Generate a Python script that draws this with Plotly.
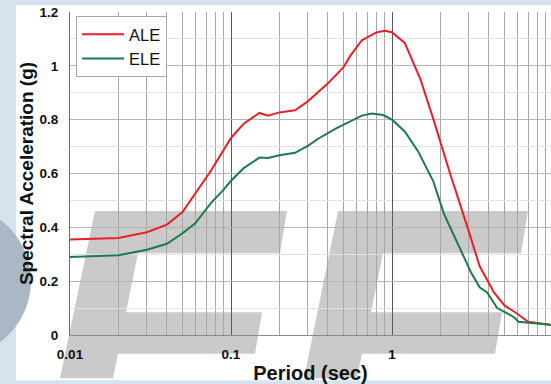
import plotly.graph_objects as go

# Design response spectra (5% damping)
period_ale = [0.01, 0.02, 0.03, 0.04, 0.05, 0.06, 0.075, 0.1, 0.12, 0.15, 0.17, 0.2,
              0.25, 0.3, 0.35, 0.4, 0.5, 0.55, 0.65, 0.8, 0.9, 1.0, 1.2, 1.5, 1.8,
              2.3, 3.0, 3.5, 4.3, 5.0, 6.0, 7.0, 10.0]
sa_ale = [0.355, 0.360, 0.382, 0.410, 0.457, 0.525, 0.610, 0.732, 0.785, 0.825, 0.815, 0.827,
          0.835, 0.868, 0.905, 0.935, 0.995, 1.037, 1.095, 1.124, 1.130, 1.125, 1.085, 0.951, 0.805,
          0.598, 0.385, 0.256, 0.158, 0.110, 0.079, 0.049, 0.036]

period_ele = [0.01, 0.02, 0.03, 0.04, 0.05, 0.06, 0.075, 0.09, 0.1, 0.12, 0.15, 0.17, 0.2,
              0.25, 0.3, 0.35, 0.45, 0.55, 0.65, 0.75, 0.88, 1.0, 1.2, 1.45, 1.8, 2.1,
              2.6, 3.1, 3.5, 3.9, 4.5, 5.0, 5.7, 6.1, 10.0]
sa_ele = [0.290, 0.296, 0.317, 0.339, 0.378, 0.415, 0.490, 0.540, 0.573, 0.620, 0.659, 0.658, 0.668,
          0.677, 0.703, 0.730, 0.768, 0.795, 0.815, 0.823, 0.817, 0.800, 0.756, 0.683, 0.573, 0.451,
          0.329, 0.232, 0.177, 0.158, 0.100, 0.085, 0.067, 0.049, 0.037]

x_tick_vals = [0.01, 0.1, 1]
x_tick_text = ["0.01", "0.1", "1"]
x_minor_vals = [m * d for d in (0.01, 0.1, 1) for m in range(2, 10)]
y_tick_vals = [0, 0.2, 0.4, 0.6, 0.8, 1.0, 1.2]
y_tick_text = ["0", "0.2", "0.4", "0.6", "0.8", "1", "1.2"]

FONT = "Liberation Sans, Arial, sans-serif"
W, H = 551, 384
ML, MR, MT, MB = 70, 0, 12, 44
PW, PH = W - ML - MR, H - MT - MB


def px(x):
    return (x - ML) / PW


def py(y):
    return (H - MB - y) / PH


def poly(points):
    return "M " + " L ".join(f"{px(a):.5f},{py(b):.5f}" for a, b in points) + " Z"


# Page decoration: white sheet, slanted grey logo letters, bluish disc
sheet = dict(type="rect", xref="paper", yref="paper", layer="below",
             x0=px(16), x1=px(W + 2), y0=py(H + 2), y1=py(5),
             fillcolor="white", line=dict(width=0))
letter_a = [(95, 214), (287, 214), (280, 257), (138, 257), (126, 317), (262, 317),
            (255, 359), (118, 359), (113, 384), (60, 384)]
letter_b = [(338, 214), (528, 214), (521, 257), (383, 257), (371, 317), (502, 317),
            (495, 359), (362, 359), (357, 384), (304, 384)]
logo = [dict(type="path", xref="paper", yref="paper", layer="below", path=poly(p),
             fillcolor="#cacaca", line=dict(width=0)) for p in (letter_a, letter_b)]
disc = dict(type="circle", xref="paper", yref="paper", layer="below",
            x0=px(-47 - 78), x1=px(-47 + 78), y0=py(285 + 78), y1=py(285 - 78),
            fillcolor="#aab8c5", line=dict(width=0))

fig = go.Figure()
fig.add_trace(go.Scatter(x=period_ale, y=sa_ale, mode="lines", name="ALE",
                         line=dict(color="#e8202a", width=2)))
fig.add_trace(go.Scatter(x=period_ele, y=sa_ele, mode="lines", name="ELE",
                         line=dict(color="#1d7a48", width=2)))

fig.update_layout(
    width=W, height=H, autosize=False,
    margin=dict(l=ML, r=MR, t=MT, b=MB, pad=0),
    paper_bgcolor="#d5e3ee",
    plot_bgcolor="rgba(0,0,0,0)",
    font=dict(family=FONT, color="#111111"),
    shapes=[sheet] + logo + [disc],
    legend=dict(x=px(76), y=py(16), xanchor="left", yanchor="top",
                bgcolor="white", bordercolor="#a8a8a8", borderwidth=1,
                itemwidth=42, tracegroupgap=0,
                font=dict(family=FONT, size=16.5, color="#111111")),
    annotations=[dict(x=1, y=0, xref="x", yref="paper", text="10", showarrow=False,
                      yanchor="top", yshift=-7,
                      font=dict(family=FONT, size=13.5, weight="bold", color="#111111"))],
)

fig.update_xaxes(
    type="log", range=[-2, (W - ML) / 161 - 2],
    tickvals=x_tick_vals, ticktext=x_tick_text,
    tickfont=dict(family=FONT, size=13.5, weight="bold"),
    ticks="", ticklabelstandoff=7,
    showgrid=True, gridcolor="#5a5a5a", gridwidth=1,
    minor=dict(tickvals=x_minor_vals, showgrid=True, gridcolor="#a6a6a6", gridwidth=1),
    showline=True, linecolor="#8a8a8a", linewidth=1,
    zeroline=False,
    title=dict(text="Period (sec)", standoff=8,
               font=dict(family=FONT, size=20, weight="bold")),
)
fig.update_yaxes(
    range=[0, 1.2],
    tickvals=y_tick_vals, ticktext=y_tick_text,
    tickfont=dict(family=FONT, size=13.5, weight="bold"),
    ticks="", ticklabelstandoff=8,
    showgrid=True, gridcolor="#b4b4b4", gridwidth=1,
    minor=dict(dtick=0.1, showgrid=True, gridcolor="#e2e2e2", gridwidth=1),
    showline=True, linecolor="#6a6a6a", linewidth=1,
    zeroline=False,
    title=dict(text="Spectral Acceleration (g)", standoff=0,
               font=dict(family=FONT, size=19, weight="bold")),
)

fig.write_html("out.html")
